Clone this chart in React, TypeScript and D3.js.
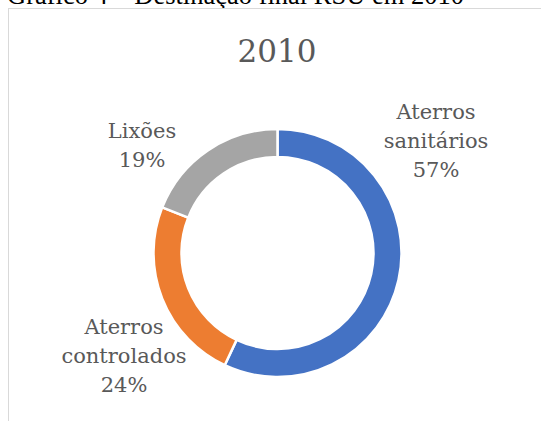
import React from "react";
import * as d3 from "d3";

const categories = ["Aterros sanitários", "Aterros controlados", "Lixões"];
const values = [57, 24, 19];
const colors = ["#4472C4", "#ED7D31", "#A5A5A5"];
const labelLines = [
  ["Aterros", "sanitários", "57%"],
  ["Aterros", "controlados", "24%"],
  ["Lixões", "19%"],
];
// label anchor (center x, first baseline y) — layout only
const labelPos = [
  [436, 119],
  [124, 334],
  [142, 138],
];

const W = 541;
const H = 421;
const cx = 277.5;
const cy = 253;
const rOuter = 124;
const rInner = 96;
const textColor = "#595959";
const labelFont = "'DejaVu Serif', serif";

export default function App() {
  const data = categories.map((c, i) => ({ c, v: values[i], i }));
  const pie = d3
    .pie<any>()
    .sort(null)
    .value((d) => d.v)
    .startAngle(0)
    .endAngle(2 * Math.PI);
  const arcs = pie(data);
  const arc = d3.arc<any>().innerRadius(rInner).outerRadius(rOuter);

  return (
    <svg
      width={W}
      height={H}
      style={{ position: "absolute", left: 0, top: 0, background: "#fff" }}
    >
      <text
        x={7}
        y={4}
        fontFamily="'Liberation Serif', serif"
        fontSize={26.5}
        fill="#000"
      >
        Gráfico 4 – Destinação final RSU em 2010
      </text>
      <rect x={8.5} y={8.5} width={W + 20} height={H + 20} fill="#fff" stroke="#D9D9D9" strokeWidth={1} />
      <text
        x={277}
        y={62}
        textAnchor="middle"
        fontFamily={labelFont}
        fontSize={31}
        fill={textColor}
      >
        2010
      </text>
      <g transform={`translate(${cx},${cy})`}>
        {arcs.map((a, i) => (
          <path key={i} d={arc(a) as string} fill={colors[i]} stroke="#fff" strokeWidth={2.5} />
        ))}
      </g>
      {labelLines.map((lines, i) => (
        <text
          key={i}
          textAnchor="middle"
          fontFamily={labelFont}
          fontSize={21}
          fill={textColor}
        >
          {lines.map((l, j) => (
            <tspan key={j} x={labelPos[i][0]} y={labelPos[i][1] + j * 29}>
              {l}
            </tspan>
          ))}
        </text>
      ))}
    </svg>
  );
}
